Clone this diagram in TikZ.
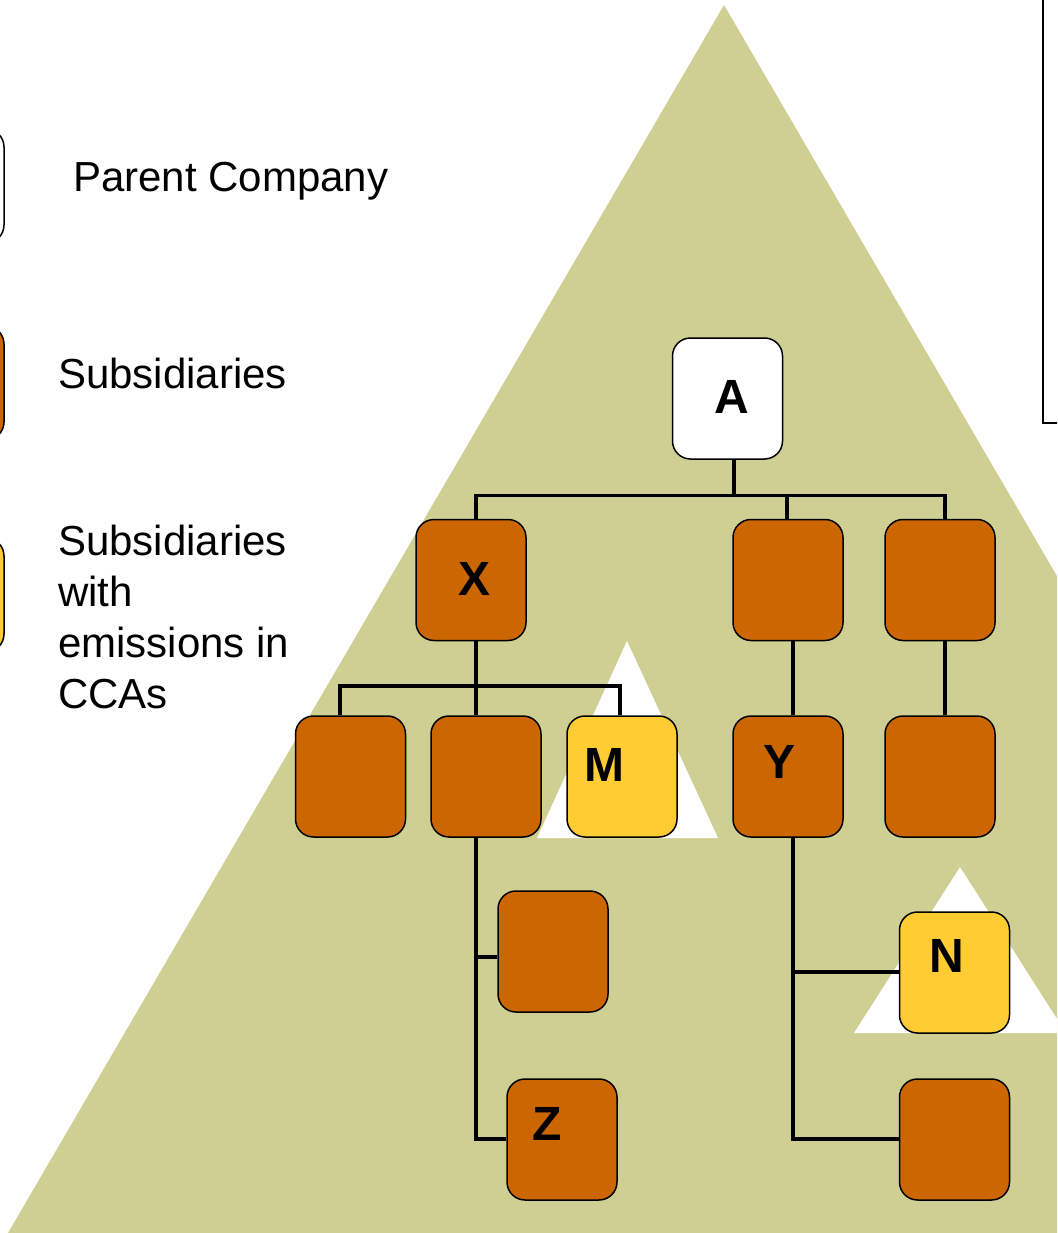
\documentclass[tikz,border=0pt]{standalone}
\usepackage{fontspec}
\setmainfont{Liberation Sans}
\definecolor{olivebg}{RGB}{207,207,147}
\definecolor{suborange}{RGB}{204,102,0}
\definecolor{ccayellow}{RGB}{255,204,51}
\begin{document}
\begin{tikzpicture}[x=1pt,y=-1pt,
  orgbox/.style={draw=black,line width=1.5pt,rounded corners=18pt,inner sep=0pt,minimum width=110pt,minimum height=121pt},
  pbox/.style={orgbox,fill=white},
  sbox/.style={orgbox,fill=suborange},
  cbox/.style={orgbox,fill=ccayellow},
  conn/.style={line width=3.4pt,line join=miter},
  lettertext/.style={font=\fontsize{48}{48}\selectfont\bfseries,inner sep=0pt},
  legendtext/.style={font=\fontsize{42}{51}\selectfont,inner sep=0pt,align=left}
]
\useasboundingbox (0,0) rectangle (1057,1233);
\clip (0,0) rectangle (1057,1233);

% background triangles
\fill[olivebg] (724,5) -- (8,1233) -- (1440,1233) -- cycle;
\fill[white] (627,641) -- (537,838) -- (718,838) -- cycle;
\fill[white] (960,867) -- (854,1033) -- (1066,1033) -- cycle;

% top-right box
\draw[line width=2pt] (1043,-10) -- (1043,423) -- (1070,423);

% legend
\node[pbox,minimum height=114pt] (lp) at (-51,186) {};
\node[sbox,minimum height=114pt] (ls) at (-51,383) {};
\node[cbox,minimum height=114pt] (lc) at (-51,595) {};
\node[legendtext,anchor=base west] (tp) at (73,192) {Parent Company};
\node[legendtext,anchor=base west] (ts) at (58,388) {Subsidiaries};
\node[legendtext,anchor=north west] (tc) at (58,525) {Subsidiaries\\with\\emissions in\\CCAs};

% bus coordinates
\coordinate (b1L) at (476,495.5);
\coordinate (b1A) at (734,495.5);
\coordinate (b1M) at (787,495.5);
\coordinate (b1R) at (945,495.5);
\coordinate (b2L) at (340,686);
\coordinate (b2M) at (476,686);
\coordinate (b2R) at (620,686);
\coordinate (zL) at (476,1139);
\coordinate (yR) at (793,1139);
\coordinate (eJ) at (476,957);
\coordinate (nJ) at (793,972);

% org nodes
\node[pbox] (A) at (727.5,398.5) {};
\node[sbox] (X) at (471,580) {};
\node[sbox] (B) at (788,580) {};
\node[sbox] (C) at (940,580) {};
\node[sbox] (R1) at (350.5,776.5) {};
\node[sbox] (R2) at (486,776.5) {};
\node[cbox] (M) at (622,776.5) {};
\node[sbox] (Y) at (788,776.5) {};
\node[sbox] (D) at (940,776.5) {};
\node[sbox] (E) at (553,951.5) {};
\node[sbox] (Z) at (562,1139.5) {};
\node[cbox] (N) at (954.5,972.5) {};
\node[sbox] (F) at (954.5,1139.5) {};

% connectors
\draw[conn] (A.south -| b1A) -- (b1A);
\draw[conn] (X.north -| b1L) -- (b1L) -- (b1R) -- (C.north -| b1R);
\draw[conn] (b1M) -- (B.north -| b1M);
\draw[conn] (X.south -| b2M) -- (b2M);
\draw[conn] (R1.north -| b2L) -- (b2L) -- (b2R) -- (M.north -| b2R);
\draw[conn] (b2M) -- (R2.north -| b2M);
\draw[conn] (B.south -| yR) -- (Y.north -| yR);
\draw[conn] (C.south -| b1R) -- (D.north -| b1R);
\draw[conn] (R2.south -| zL) -- (zL) -- (Z.west |- zL);
\draw[conn] (eJ) -- (E.west |- eJ);
\draw[conn] (Y.south -| yR) -- (yR) -- (F.west |- yR);
\draw[conn] (nJ) -- (N.west |- nJ);

% letters
\node[lettertext] (lA) at (732,397) {A};
\node[lettertext] (lX) at (474.5,578.7) {X};
\node[lettertext] (lM) at (604.5,764.5) {M};
\node[lettertext] (lY) at (779,762) {Y};
\node[lettertext] (lZ) at (547,1124) {Z};
\node[lettertext] (lN) at (947,956) {N};
\end{tikzpicture}
\end{document}
